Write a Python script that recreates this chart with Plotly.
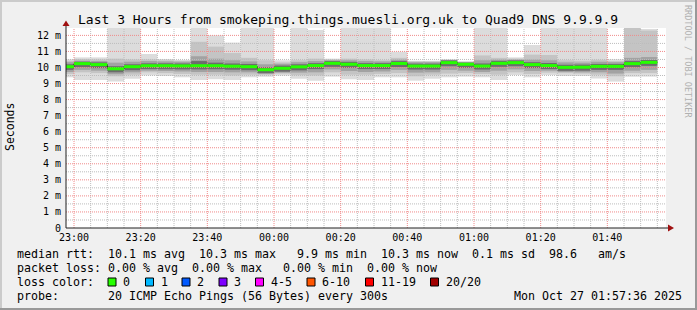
import plotly.graph_objects as go
import pandas as pd

# ---------------- data (5-minute bins, 20 pings each) ----------------
bin_start = pd.date_range("2025-10-26 22:55:00", periods=36, freq="5min")

median_ms = [10.05, 10.24, 10.18, 9.92, 10.05, 10.11, 10.11, 10.10, 10.11, 10.11, 10.08, 10.05,
             9.86, 9.95, 10.04, 10.12, 10.26, 10.20, 10.12, 10.12, 10.25, 10.09, 10.09, 10.30,
             10.20, 10.09, 10.26, 10.30, 10.18, 10.12, 10.01, 10.02, 10.07, 10.07, 10.24, 10.32]
max_ms = [10.51, 10.63, 10.63, 12.6, 12.6, 10.84, 10.53, 10.47, 12.6, 12.00, 11.55, 12.6,
          12.6, 10.45, 12.6, 12.34, 10.55, 12.6, 12.6, 12.6, 10.98, 10.42, 10.42, 10.51,
          10.38, 12.6, 12.6, 10.63, 11.40, 12.6, 12.6, 12.6, 12.6, 10.51, 12.6, 12.40]
hi_b = [10.42, 10.52, 10.50, 10.55, 10.50, 10.50, 10.45, 10.42, 11.60, 11.30, 10.90, 10.60,
        10.45, 10.32, 10.45, 10.55, 10.50, 10.55, 10.50, 10.45, 10.60, 10.38, 10.38, 10.48,
        10.36, 10.75, 10.60, 10.55, 10.80, 10.78, 10.45, 10.42, 10.48, 10.40, 12.6, 12.30]
hi_c = [10.33, 10.42, 10.40, 10.30, 10.36, 10.40, 10.38, 10.36, 10.70, 10.55, 10.45, 10.38,
        10.20, 10.23, 10.33, 10.40, 10.45, 10.45, 10.40, 10.38, 10.50, 10.33, 10.33, 10.46,
        10.32, 10.45, 10.50, 10.50, 10.50, 10.45, 10.32, 10.30, 10.36, 10.33, 10.60, 10.65]
hi_d = [10.20, 10.36, 10.32, 10.08, 10.20, 10.26, 10.26, 10.25, 10.40, 10.30, 10.25, 10.22,
        10.02, 10.12, 10.20, 10.27, 10.40, 10.35, 10.27, 10.27, 10.40, 10.24, 10.24, 10.44,
        10.30, 10.25, 10.41, 10.44, 10.33, 10.28, 10.17, 10.18, 10.22, 10.22, 10.40, 10.47]
lo_d = [9.85, 10.02, 9.96, 9.70, 9.83, 9.90, 9.89, 9.88, 9.88, 9.89, 9.86, 9.83,
        9.65, 9.74, 9.82, 9.90, 10.04, 9.98, 9.90, 9.90, 10.03, 9.87, 9.87, 10.08,
        9.98, 9.87, 10.04, 10.08, 9.96, 9.90, 9.79, 9.80, 9.85, 9.85, 10.02, 10.10]
lo_c = [9.72, 9.85, 9.80, 9.58, 9.70, 9.80, 9.78, 9.75, 9.72, 9.72, 9.70, 9.70,
        9.60, 9.68, 9.68, 9.70, 9.88, 9.78, 9.72, 9.75, 9.85, 9.68, 9.70, 9.85,
        9.80, 9.72, 9.80, 9.88, 9.78, 9.80, 9.72, 9.70, 9.70, 9.62, 9.80, 9.85]
lo_b = [9.60, 9.70, 9.65, 9.45, 9.55, 9.70, 9.65, 9.60, 9.55, 9.55, 9.50, 9.55,
        9.55, 9.62, 9.52, 9.50, 9.70, 9.55, 9.55, 9.60, 9.65, 9.45, 9.55, 9.62,
        9.65, 9.60, 9.55, 9.70, 9.60, 9.68, 9.65, 9.62, 9.55, 9.45, 9.65, 9.65]
min_ms = [9.39, 9.22, 9.22, 9.12, 9.30, 9.51, 9.47, 9.39, 9.22, 9.27, 9.22, 9.39,
          9.43, 9.50, 9.30, 9.17, 9.43, 9.26, 9.22, 9.39, 9.39, 9.18, 9.30, 9.39,
          9.43, 9.39, 9.22, 9.53, 9.39, 9.53, 9.47, 9.47, 9.32, 9.12, 9.43, 9.43]

y_tick_vals = list(range(13))
y_tick_text = ["0"] + [f"{v} m" for v in range(1, 13)]
loss_labels = ["0", "1", "2", "3", "4-5", "6-10", "11-19", "20/20"]
loss_colors = ["#26ff00", "#00b8ff", "#0059ff", "#7e00ff", "#ff00ff", "#ff5500", "#ff0000", "#a10000"]

title = "Last 3 Hours from smokeping.things.muesli.org.uk to Quad9 DNS 9.9.9.9"
line_rtt = "median rtt:  10.1 ms avg  10.3 ms max   9.9 ms min  10.3 ms now  0.1 ms sd  98.6   am/s"
line_loss = "packet loss: 0.00 % avg  0.00 % max   0.00 % min  0.00 % now"
line_probe = "probe:       20 ICMP Echo Pings (56 Bytes) every 300s                  Mon Oct 27 01:57:36 2025"

# ---------------- layout geometry ----------------
W, H = 697, 310
L, R, T, B = 66, 31, 28, 82
PW, PH = W - L - R, H - T - B
X0, X1 = pd.Timestamp("2025-10-26 22:57:36"), pd.Timestamp("2025-10-27 01:57:36")
YMAX = 12.46
MONO = "DejaVu Sans Mono"


def xp(px):
    return (px - L) / PW


def yp(py):
    return (H - B - py) / PH


def nb(s):
    return s.replace(" ", "\u00a0")


bin_width_ms = 5 * 60 * 1000
centers = bin_start + pd.Timedelta(minutes=2.5)
bin_end = bin_start + pd.Timedelta(minutes=5)

fig = go.Figure()

layers = [(min_ms, max_ms, "#dcdcdc"), (lo_b, hi_b, "#c4c4c4"),
          (lo_c, hi_c, "#a2a2a2"), (lo_d, hi_d, "#6c6c6c")]
for lo, hi, col in layers:
    fig.add_trace(go.Bar(x=centers, y=[h - l for h, l in zip(hi, lo)], base=lo,
                         width=bin_width_ms, marker=dict(color=col, line=dict(width=0)),
                         hoverinfo="skip"))

# grid drawn over the smoke (as rrdtool does)
grid_times = pd.date_range("2025-10-26 22:40:00", "2025-10-27 02:10:00", freq="5min")
minx, miny, majx, majy = [], [], [], []
for t in grid_times:
    if t < X0 or t > X1:
        continue
    if t.minute % 20 == 0:
        majx += [t, t, None]; majy += [0, YMAX, None]
    else:
        minx += [t, t, None]; miny += [0, YMAX, None]
for k in range(1, 25):
    v = k * 0.5
    if v > YMAX:
        continue
    if k % 2 == 0:
        majx += [X0, X1, None]; majy += [v, v, None]
    else:
        minx += [X0, X1, None]; miny += [v, v, None]
fig.add_trace(go.Scatter(x=minx, y=miny, mode="lines", hoverinfo="skip",
                         line=dict(color="#bcbcbc", width=1, dash="1px,1px")))
fig.add_trace(go.Scatter(x=majx, y=majy, mode="lines", hoverinfo="skip",
                         line=dict(color="#f08a8a", width=1, dash="1px,1px")))

# median: dark step line + green loss-colour band per bin
fig.add_trace(go.Scatter(x=list(bin_start) + [bin_end[-1]], y=median_ms + [median_ms[-1]],
                         mode="lines", line=dict(color="#202020", width=1, shape="hv"),
                         hoverinfo="skip"))
gx, gy = [], []
for s, e, m in zip(bin_start, bin_end, median_ms):
    gx += [s, e, None]; gy += [m, m, None]
fig.add_trace(go.Scatter(x=gx, y=gy, mode="lines", line=dict(color=loss_colors[0], width=3),
                         hoverinfo="skip"))

shapes = []
# axes lines and arrows
shapes.append(dict(type="line", xref="paper", yref="paper", x0=0, x1=0, y0=0, y1=yp(23),
                   line=dict(color="#202020", width=1)))
shapes.append(dict(type="line", xref="paper", yref="paper", x0=0, x1=xp(670), y0=0, y1=0,
                   line=dict(color="#202020", width=1)))
shapes.append(dict(type="path", xref="paper", yref="paper",
                   path=f"M {xp(L-3.5)},{yp(26)} L {xp(L+3.5)},{yp(26)} L {xp(L)},{yp(20.5)} Z",
                   fillcolor="#a01010", line=dict(width=0)))
shapes.append(dict(type="path", xref="paper", yref="paper",
                   path=f"M {xp(668)},{yp(224.5)} L {xp(668)},{yp(231.5)} L {xp(674)},{yp(228)} Z",
                   fillcolor="#a01010", line=dict(width=0)))
# frame
shapes.append(dict(type="line", xref="paper", yref="paper", x0=xp(0), x1=xp(W), y0=yp(1), y1=yp(1),
                   line=dict(color="#cbcbcb", width=2)))
shapes.append(dict(type="line", xref="paper", yref="paper", x0=xp(1), x1=xp(1), y0=yp(0), y1=yp(H),
                   line=dict(color="#cbcbcb", width=2)))
shapes.append(dict(type="line", xref="paper", yref="paper", x0=xp(0), x1=xp(W), y0=yp(H - 1), y1=yp(H - 1),
                   line=dict(color="#999999", width=2)))
shapes.append(dict(type="line", xref="paper", yref="paper", x0=xp(W - 1), x1=xp(W - 1), y0=yp(0), y1=yp(H),
                   line=dict(color="#999999", width=2)))

annotations = []
annotations.append(dict(text=title, xref="paper", yref="paper", x=xp(348), y=yp(19),
                        xanchor="center", yanchor="middle", showarrow=False,
                        font=dict(family=MONO, size=13, color="#000000")))
annotations.append(dict(text="Seconds", xref="paper", yref="paper", x=xp(10), y=yp(127),
                        xanchor="center", yanchor="middle", showarrow=False, textangle=-90,
                        font=dict(family=MONO, size=11.5, color="#000000")))
annotations.append(dict(text=nb("RRDTOOL / TOBI OETIKER"), xref="paper", yref="paper", x=xp(688), y=yp(61),
                        xanchor="center", yanchor="middle", showarrow=False, textangle=90,
                        font=dict(family=MONO, size=8.5, color="#b0b0b0")))
for txt, cy in [(line_rtt, 254.3), (line_loss, 268), ("loss color:", 282.3), (line_probe, 296)]:
    annotations.append(dict(text=nb(txt), xref="paper", yref="paper", x=xp(16), y=yp(cy),
                            xanchor="left", yanchor="middle", showarrow=False, borderpad=0,
                            font=dict(family=MONO, size=11.63, color="#000000")))
square_px = [108, 145.5, 182, 219, 255.5, 307, 365.5, 430.5]
for sx, lab, col in zip(square_px, loss_labels, loss_colors):
    shapes.append(dict(type="rect", xref="paper", yref="paper", x0=xp(sx), x1=xp(sx + 8),
                       y0=yp(286), y1=yp(278), fillcolor=col, line=dict(color="#000000", width=1)))
    annotations.append(dict(text=nb(lab), xref="paper", yref="paper", x=xp(sx + 14), y=yp(282.3),
                            xanchor="left", yanchor="middle", showarrow=False, borderpad=0,
                            font=dict(family=MONO, size=11.63, color="#000000")))

major_ticks = [t for t in grid_times if X0 <= t <= X1 and t.minute % 20 == 0]

fig.update_layout(
    width=W, height=H, margin=dict(l=L, r=R, t=T, b=B, pad=0),
    paper_bgcolor="#f0f0f0", plot_bgcolor="#ffffff",
    barmode="overlay", showlegend=False,
    shapes=shapes, annotations=annotations,
    xaxis=dict(range=[X0, X1], showgrid=False, zeroline=False, showline=False,
               tickvals=major_ticks, tickformat="%H:%M", ticks="", ticklabelstandoff=2,
               tickfont=dict(family=MONO, size=10, color="#000000"), fixedrange=True),
    yaxis=dict(range=[0, YMAX], showgrid=False, zeroline=False, showline=False,
               tickvals=y_tick_vals, ticktext=y_tick_text, ticks="", ticklabelstandoff=4,
               tickfont=dict(family=MONO, size=10, color="#000000"), fixedrange=True),
)

fig.write_html("out.html")
